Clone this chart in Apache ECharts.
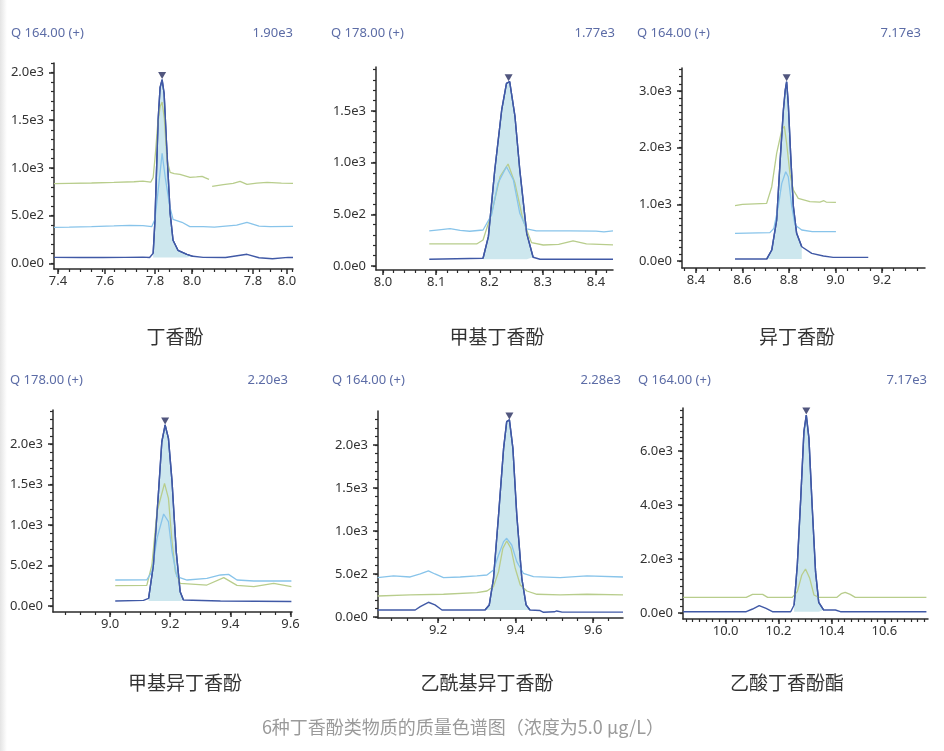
<!DOCTYPE html>
<html>
<head>
<meta charset="utf-8">
<title>6种丁香酚类物质的质量色谱图</title>
<script src="https://cdn.jsdelivr.net/npm/echarts@6/dist/echarts.min.js"></script>
<style>
html,body{margin:0;padding:0;background:#fff;}
#main{width:944px;height:751px;}
</style>
</head>
<body>
<div id="main"></div>
<script>
// 文字
var titles = ['丁香酚', '甲基丁香酚', '异丁香酚', '甲基异丁香酚', '乙酰基异丁香酚', '乙酸丁香酚酯'];
var ions = ['Q 164.00 (+)', 'Q 178.00 (+)', 'Q 164.00 (+)', 'Q 178.00 (+)', 'Q 164.00 (+)', 'Q 164.00 (+)'];
var maxTexts = ['1.90e3', '1.77e3', '7.17e3', '2.20e3', '2.28e3', '7.17e3'];
var caption = '6种丁香酚类物质的质量色谱图（浓度为5.0 μg/L）';

// x轴刻度
var p1XTicks = [7.4, 7.61, 7.834, 8.0, 8.273, 8.425];
var p1XLabels = ['7.4', '7.6', '7.8', '8.0', '7.8', '8.0'];
var p2XTicks = [8.0, 8.1, 8.2, 8.3, 8.4];
var p2XLabels = ['8.0', '8.1', '8.2', '8.3', '8.4'];
var p3XTicks = [8.4, 8.6, 8.8, 9.0, 9.2];
var p3XLabels = ['8.4', '8.6', '8.8', '9.0', '9.2'];
var p4XTicks = [9.0, 9.2, 9.4, 9.6];
var p4XLabels = ['9.0', '9.2', '9.4', '9.6'];
var p5XTicks = [9.2, 9.4, 9.6];
var p5XLabels = ['9.2', '9.4', '9.6'];
var p6XTicks = [10.0, 10.2, 10.4, 10.6];
var p6XLabels = ['10.0', '10.2', '10.4', '10.6'];

// y轴刻度
var p1YTicks = [0, 500, 1000, 1500, 2000];
var p1YLabels = ['0.0e0', '5.0e2', '1.0e3', '1.5e3', '2.0e3'];
var p2YTicks = [0, 500, 1000, 1500];
var p2YLabels = ['0.0e0', '5.0e2', '1.0e3', '1.5e3'];
var p3YTicks = [0, 1000, 2000, 3000];
var p3YLabels = ['0.0e0', '1.0e3', '2.0e3', '3.0e3'];
var p4YTicks = [0, 500, 1000, 1500, 2000];
var p4YLabels = ['0.0e0', '5.0e2', '1.0e3', '1.5e3', '2.0e3'];
var p5YTicks = [0, 500, 1000, 1500, 2000];
var p5YLabels = ['0.0e0', '5.0e2', '1.0e3', '1.5e3', '2.0e3'];
var p6YTicks = [0, 2000, 4000, 6000];
var p6YLabels = ['0.0e0', '2.0e3', '4.0e3', '6.0e3'];

// 丁香酚
var p1Green = [[7.382,835],[7.45,838],[7.55,842],[7.65,848],[7.74,855],[7.78,862],[7.815,850],[7.826,900],[7.836,1150],[7.846,1450],[7.857,1640],[7.866,1690],[7.876,1520],[7.888,1080],[7.902,953],[7.92,940],[7.946,932],[7.991,900],[8.02,905],[8.045,911],[8.06,895],[8.076,880],[8.083,'-'],[8.09,806],[8.14,825],[8.184,838],[8.215,859],[8.246,827],[8.29,840],[8.336,848],[8.4,840],[8.452,838]];
var p1Blue = [[7.382,377],[7.45,380],[7.55,385],[7.65,392],[7.72,398],[7.78,395],[7.82,385],[7.834,461],[7.85,800],[7.866,1152],[7.88,900],[7.9,600],[7.915,461],[7.955,430],[7.99,385],[8.05,385],[8.1,380],[8.2,400],[8.246,430],[8.3,390],[8.35,385],[8.452,387]];
var p1Dark = [[7.382,62],[7.5,60],[7.6,60],[7.7,62],[7.78,65],[7.81,60],[7.826,105],[7.834,450],[7.848,1497],[7.857,1843],[7.866,1926],[7.875,1780],[7.888,1152],[7.902,524],[7.915,241],[7.937,136],[7.977,94],[8.004,73],[8.05,62],[8.15,60],[8.246,94],[8.3,58],[8.36,48],[8.43,62],[8.452,60]];

// 甲基丁香酚
var p2Blue = [[8.087,339],[8.105,350],[8.126,361],[8.145,345],[8.163,336],[8.188,348],[8.204,494],[8.216,800],[8.232,961],[8.245,832],[8.257,510],[8.27,358],[8.288,339],[8.35,339],[8.4,337],[8.415,330],[8.432,339]];
var p2Green = [[8.087,213],[8.176,213],[8.188,252],[8.204,510],[8.22,865],[8.235,987],[8.248,800],[8.263,445],[8.279,226],[8.301,203],[8.33,210],[8.357,242],[8.382,213],[8.432,205]];
var p2Dark = [[8.087,65],[8.188,75],[8.198,284],[8.21,929],[8.223,1510],[8.232,1768],[8.238,1784],[8.248,1445],[8.257,929],[8.27,316],[8.282,84],[8.295,65],[8.432,65]];

// 异丁香酚
var p3Green = [[8.568,976],[8.6,1000],[8.704,1017],[8.726,1311],[8.747,1899],[8.769,2310],[8.78,2381],[8.79,2076],[8.804,1547],[8.819,1252],[8.84,1106],[8.89,1046],[8.933,1040],[8.95,1064],[8.96,1040],[9.002,1035]];
var p3Blue = [[8.568,488],[8.718,500],[8.735,576],[8.754,958],[8.769,1370],[8.786,1575],[8.797,1487],[8.812,958],[8.826,635],[8.855,547],[8.9,517],[9.002,517]];
var p3Dark = [[8.568,35],[8.704,35],[8.726,194],[8.747,723],[8.764,1899],[8.776,2663],[8.784,3016],[8.79,3162],[8.797,2781],[8.807,1899],[8.819,958],[8.833,488],[8.855,252],[8.898,136],[8.948,88],[8.99,65],[9.141,65]];

// 甲基异丁香酚
var p4Blue = [[9.017,321],[9.122,323],[9.139,424],[9.156,835],[9.178,1136],[9.194,1041],[9.206,670],[9.222,362],[9.256,321],[9.322,342],[9.367,383],[9.394,391],[9.422,321],[9.478,309],[9.603,309]];
var p4Green = [[9.017,251],[9.122,255],[9.139,506],[9.156,1164],[9.181,1515],[9.194,1329],[9.206,794],[9.217,424],[9.233,280],[9.322,259],[9.378,350],[9.422,255],[9.478,239],[9.544,280],[9.603,239]];
var p4Dark = [[9.017,62],[9.111,70],[9.128,95],[9.144,506],[9.161,1411],[9.172,2028],[9.183,2235],[9.194,2070],[9.206,1535],[9.22,670],[9.233,177],[9.244,74],[9.367,62],[9.603,55]];

// 乙酰基异丁香酚
var p5Blue = [[9.044,457],[9.085,477],[9.128,465],[9.154,500],[9.175,535],[9.192,500],[9.214,457],[9.257,465],[9.3,477],[9.326,488],[9.343,547],[9.356,721],[9.369,876],[9.377,915],[9.39,837],[9.403,643],[9.42,508],[9.446,469],[9.515,457],[9.584,477],[9.677,465]];
var p5Green = [[9.044,244],[9.128,256],[9.214,264],[9.3,283],[9.326,302],[9.343,353],[9.356,527],[9.367,798],[9.377,884],[9.388,798],[9.399,566],[9.412,372],[9.429,302],[9.455,264],[9.515,256],[9.584,264],[9.677,256]];
var p5Dark = [[9.044,81],[9.141,81],[9.154,120],[9.175,171],[9.192,140],[9.21,81],[9.321,81],[9.332,140],[9.343,450],[9.356,1186],[9.369,1961],[9.377,2271],[9.384,2291],[9.393,1961],[9.403,1186],[9.416,450],[9.427,140],[9.437,81],[9.463,75],[9.472,54],[9.5,60],[9.506,70],[9.52,56],[9.677,56]];

// 乙酸丁香酚酯
var p6Green = [[9.84,580],[10.078,580],[10.102,691],[10.14,691],[10.159,580],[10.252,580],[10.271,790],[10.288,1407],[10.302,1630],[10.318,1284],[10.334,667],[10.352,580],[10.421,580],[10.437,716],[10.452,765],[10.471,691],[10.49,580],[10.759,580]];
var p6Dark = [[9.84,48],[10.078,48],[10.102,148],[10.127,272],[10.153,170],[10.177,48],[10.246,48],[10.259,296],[10.271,1778],[10.284,4247],[10.296,6716],[10.305,7333],[10.315,6469],[10.327,4000],[10.34,1531],[10.352,395],[10.371,111],[10.415,111],[10.434,48],[10.759,48]];

// 积分峰：保留时间范围、基线、峰顶
var peakRanges = [[7.82, 8.005], [8.185, 8.285], [8.70, 8.86], [9.125, 9.245], [9.32, 9.44], [10.25, 10.375]];
var baselines = [60, 65, 35, 62, 81, 48];
var peakTops = [[7.866, 1926], [8.236, 1784], [8.79, 3162], [9.183, 2235], [9.384, 2291], [10.305, 7333]];

var greens = [p1Green, p2Green, p3Green, p4Green, p5Green, p6Green];
var blues = [p1Blue, p2Blue, p3Blue, p4Blue, p5Blue, null];
var darks = [p1Dark, p2Dark, p3Dark, p4Dark, p5Dark, p6Dark];
var xTicks = [p1XTicks, p2XTicks, p3XTicks, p4XTicks, p5XTicks, p6XTicks];
var xLabels = [p1XLabels, p2XLabels, p3XLabels, p4XLabels, p5XLabels, p6XLabels];
var yTicks = [p1YTicks, p2YTicks, p3YTicks, p4YTicks, p5YTicks, p6YTicks];
var yLabels = [p1YLabels, p2YLabels, p3YLabels, p4YLabels, p5YLabels, p6YLabels];

// 版面
var boxes = [[54, 63, 239, 206], [376, 67, 237, 203], [682, 68, 243, 200], [53, 410, 239, 202], [378, 411, 245, 207], [683, 408, 245, 211]];
var xRanges = [[7.382, 8.452], [7.987, 8.432], [8.34, 9.385], [8.81, 9.605], [9.045, 9.677], [9.839, 10.765]];
var yRanges = [[-60, 2100], [-39, 1926], [-123, 3404], [-74, 2420], [-12, 2395], [-222, 7593]];
var xMinorStep = [0.05, 0.02, 0.05, 0.05, 0.04, 0.025];
var yMinorStep = [100, 100, 125, 100, 100, 250];
var headerY = [33, 33, 33, 380, 380, 380];
var headerLeft = [11, 331, 637, 10, 332, 638];
var headerRight = [293, 615, 921, 288, 621, 927];
var titlePos = [[175, 337], [497, 337], [797, 337], [185, 683], [487, 683], [787, 683]];

var COL_GREEN = '#b8cd8c', COL_BLUE = '#88c4ea', COL_DARK = '#4059a6', COL_FILL = '#cde7ee';
var AXIS = '#2b2b2b';

function steps(min, max, step) {
    var out = [];
    for (var v = Math.ceil(min / step) * step; v <= max + 1e-9; v += step) out.push(+v.toFixed(4));
    return out;
}
function pick(vals, labels) {
    return function (v) {
        for (var k = 0; k < vals.length; k++) {
            if (Math.abs(vals[k] - v) < 1e-6) return labels[k];
        }
        return '';
    };
}

var dom = document.getElementById('main');
var myChart = echarts.init(dom, null, {renderer: 'canvas'});

var grids = [], xAxes = [], yAxes = [], series = [], graphics = [];

graphics.push({
    type: 'rect', left: 0, top: 0, shape: {width: 7, height: 751}, silent: true,
    style: {fill: new echarts.graphic.LinearGradient(0, 0, 1, 0, [{offset: 0, color: '#e4e4e4'}, {offset: 1, color: '#ffffff'}])}
});

for (var i = 0; i < 6; i++) {
    var b = boxes[i];
    grids.push({left: b[0], top: b[1], width: b[2], height: b[3]});

    xAxes.push({
        type: 'value', gridIndex: i, position: 'bottom',
        min: xRanges[i][0], max: xRanges[i][1],
        axisLine: {show: true, onZero: false, lineStyle: {color: AXIS, width: 1.5}},
        splitLine: {show: false},
        axisTick: {show: true, customValues: xTicks[i], length: 5, lineStyle: {color: AXIS, width: 1.5}},
        axisLabel: {customValues: xTicks[i], formatter: pick(xTicks[i], xLabels[i]), color: '#333', fontSize: 13, margin: 6, fontFamily: 'Noto Sans'}
    });
    xAxes.push({
        type: 'value', gridIndex: i, position: 'bottom',
        min: xRanges[i][0], max: xRanges[i][1],
        axisLine: {show: false, onZero: false},
        splitLine: {show: false},
        axisTick: {show: true, customValues: steps(xRanges[i][0], xRanges[i][1], xMinorStep[i]), length: 3, lineStyle: {color: AXIS, width: 1.2}},
        axisLabel: {show: false}
    });

    yAxes.push({
        type: 'value', gridIndex: i, position: 'left',
        min: yRanges[i][0], max: yRanges[i][1],
        axisLine: {show: true, onZero: false, lineStyle: {color: AXIS, width: 1.5}},
        splitLine: {show: false},
        axisTick: {show: true, customValues: yTicks[i], length: 5, lineStyle: {color: AXIS, width: 1.5}},
        axisLabel: {customValues: yTicks[i], formatter: pick(yTicks[i], yLabels[i]), color: '#333', fontSize: 13, margin: 10, fontFamily: 'Noto Sans'}
    });
    yAxes.push({
        type: 'value', gridIndex: i, position: 'left',
        min: yRanges[i][0], max: yRanges[i][1],
        axisLine: {show: false, onZero: false},
        splitLine: {show: false},
        axisTick: {show: true, customValues: steps(yRanges[i][0], yRanges[i][1], yMinorStep[i]), length: 3, lineStyle: {color: AXIS, width: 1.2}},
        axisLabel: {show: false}
    });

    var ax = {xAxisIndex: 2 * i, yAxisIndex: 2 * i};
    var r = peakRanges[i];
    var peakPart = darks[i].filter(function (p) { return p[0] >= r[0] && p[0] <= r[1]; });

    series.push(Object.assign({
        type: 'line', data: peakPart, symbol: 'none', silent: true, z: 1,
        lineStyle: {color: '#34509e', width: 1.4},
        areaStyle: {color: COL_FILL, opacity: 1, origin: baselines[i]}
    }, ax));
    series.push(Object.assign({
        type: 'line', data: greens[i], symbol: 'none', silent: true, z: 2,
        lineStyle: {color: COL_GREEN, width: 1.3}
    }, ax));
    if (blues[i]) {
        series.push(Object.assign({
            type: 'line', data: blues[i], symbol: 'none', silent: true, z: 3,
            lineStyle: {color: COL_BLUE, width: 1.3}
        }, ax));
    }
    series.push(Object.assign({
        type: 'line', data: darks[i], symbol: 'none', silent: true, z: 4,
        lineStyle: {color: COL_DARK, width: 1.4}
    }, ax));
    series.push(Object.assign({
        type: 'scatter', data: [peakTops[i]], silent: true, z: 5,
        symbol: 'path://M0,0 L10,0 L5,9 Z', symbolSize: [8, 7], symbolOffset: [0, -4],
        itemStyle: {color: '#262c5e'}
    }, ax));

    graphics.push({
        type: 'text', x: headerLeft[i], y: headerY[i], silent: true,
        style: {text: ions[i], fill: '#5c6ca6', font: '13px "Noto Sans"', textAlign: 'left', textVerticalAlign: 'middle', verticalAlign: 'middle'}
    });
    graphics.push({
        type: 'text', x: headerRight[i], y: headerY[i], silent: true,
        style: {text: maxTexts[i], fill: '#5c6ca6', font: '13px "Noto Sans"', textAlign: 'right', textVerticalAlign: 'middle', verticalAlign: 'middle'}
    });
    graphics.push({
        type: 'text', x: titlePos[i][0], y: titlePos[i][1], silent: true,
        style: {text: titles[i], fill: '#333', font: '19px "Noto Sans CJK SC"', textAlign: 'center', textVerticalAlign: 'middle', verticalAlign: 'middle'}
    });
}

graphics.push({
    type: 'text', x: 463, y: 727, silent: true,
    style: {text: caption, fill: '#9a9a9a', font: '18px "Noto Sans CJK SC"', textAlign: 'center', textVerticalAlign: 'middle', verticalAlign: 'middle'}
});

var option = {
    animation: false,
    backgroundColor: '#fff',
    grid: grids,
    xAxis: xAxes,
    yAxis: yAxes,
    series: series,
    graphic: graphics
};
myChart.setOption(option);
window.addEventListener('resize', myChart.resize);
</script>
</body>
</html>
